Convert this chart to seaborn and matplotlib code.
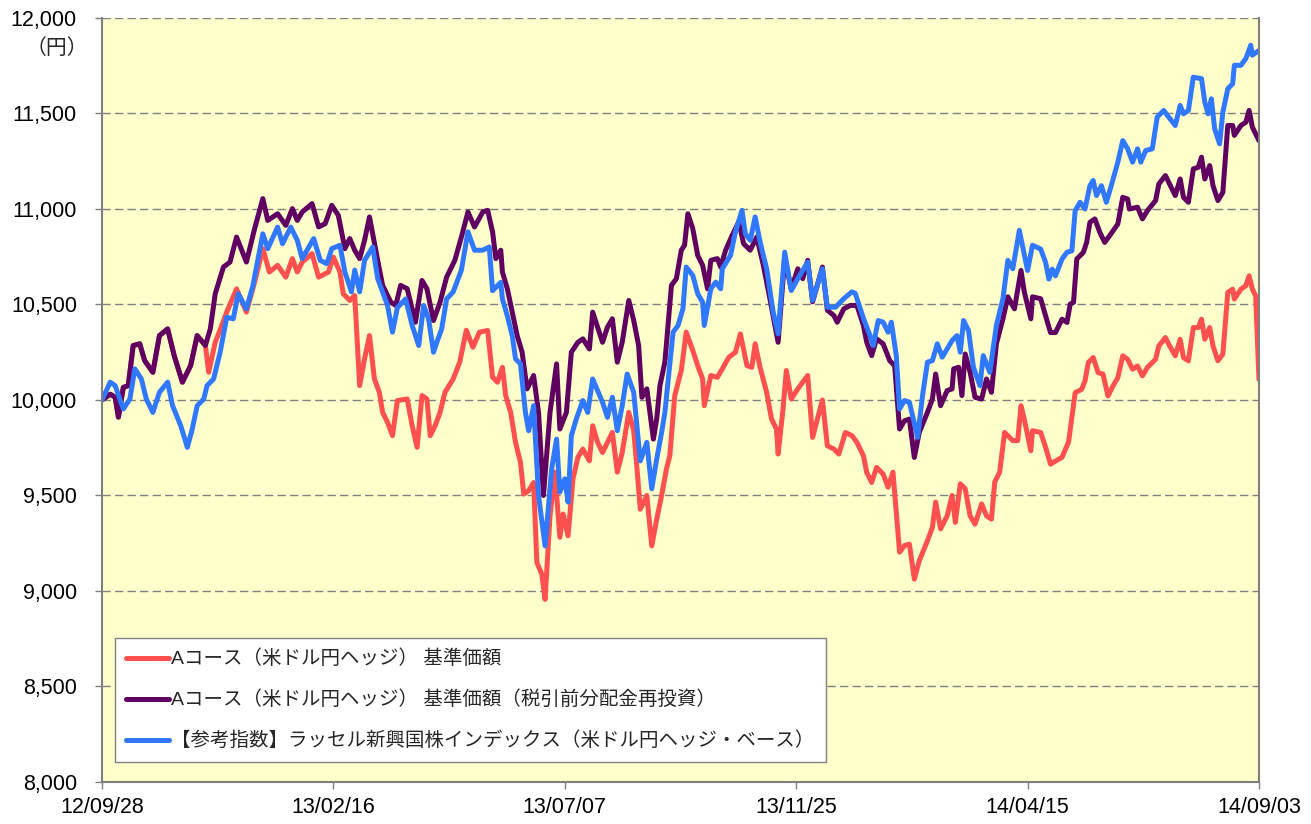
import pandas as pd
import numpy as np
import matplotlib
matplotlib.use("Agg")
import matplotlib.pyplot as plt
import seaborn as sns

# series names (legend order)
name_nav = "Aコース（米ドル円ヘッジ） 基準価額"
name_reinv = "Aコース（米ドル円ヘッジ） 基準価額（税引前分配金再投資）"
name_index = "【参考指数】ラッセル新興国株インデックス（米ドル円ヘッジ・ベース）"

start_date = "2012-09-28"

# day offsets from 2012/09/28 and values (yen)
nav_days = [0, 5, 8, 10, 13, 16, 19, 23, 26, 31, 35, 40, 44, 49, 54, 58, 63, 65, 69, 73,
            76, 82, 88, 93, 98, 102, 107, 112, 116, 119, 122, 128, 132, 138, 141, 145, 147, 151, 154, 157,
            160, 163, 166, 169, 171, 174, 177, 180, 186, 189, 192, 195, 198, 200, 203, 206, 209, 214, 218, 222,
            226, 230, 235, 238, 241, 244, 246, 249, 252, 255, 257, 260, 263, 265, 268, 270, 273, 276, 279, 281,
            284, 287, 290, 293, 297, 299, 302, 305, 308, 311, 314, 317, 321, 324, 326, 328, 332, 335, 338, 341,
            344, 346, 349, 353, 356, 360, 363, 366, 367, 371, 375, 378, 382, 386, 389, 393, 396, 398, 401, 405,
            408, 411, 412, 415, 417, 420, 424, 430, 433, 439, 442, 446, 449, 453, 457, 460, 464, 466, 469, 472,
            476, 479, 482, 486, 489, 492, 495, 498, 503, 506, 508, 511, 515, 518, 520, 523, 526, 529, 532, 536,
            539, 542, 544, 547, 550, 555, 558, 560, 562, 566, 567, 572, 575, 578, 581, 585, 589, 593, 597, 599,
            601, 604, 607, 610, 613, 616, 619, 622, 625, 628, 631, 634, 637, 642, 644, 648, 650, 654, 657, 659,
            662, 665, 668, 670, 672, 675, 677, 680, 683, 686, 689, 690, 694, 697, 699, 701, 703, 705]
nav_vals = [10000, 10030, 10015, 9910, 10066, 10075, 10285, 10294, 10206, 10145, 10337, 10372, 10232, 10093, 10180, 10337, 10285, 10145, 10302, 10390,
            10460, 10582, 10460, 10617, 10792, 10670, 10705, 10643, 10740, 10670, 10722, 10766, 10643, 10670, 10748, 10670, 10556, 10521, 10547, 10075,
            10215, 10337, 10110, 10040, 9935, 9883, 9813, 9997, 10005, 9865, 9752, 10023, 10005, 9813, 9865, 9935, 10040, 10110, 10198, 10365,
            10276, 10355, 10364, 10119, 10093, 10171, 10023, 9935, 9778, 9673, 9507, 9525, 9568, 9149, 9087, 8956, 9393, 9622, 9281, 9403,
            9289, 9587, 9700, 9743, 9681, 9865, 9778, 9725, 9778, 9830, 9622, 9725, 9935, 9839, 9640, 9428, 9500, 9236, 9375, 9500,
            9640, 9708, 10023, 10154, 10355, 10259, 10180, 10110, 9970, 10128, 10119, 10163, 10224, 10250, 10346, 10180, 10171, 10294, 10171, 10040,
            9900, 9848, 9717, 9953, 10154, 10005, 10058, 10128, 9804, 10000, 9760, 9743, 9717, 9830, 9813, 9778, 9708, 9620, 9568, 9647,
            9612, 9543, 9622, 9203, 9238, 9245, 9062, 9158, 9263, 9333, 9465, 9325, 9393, 9500, 9359, 9561, 9535, 9393, 9350, 9456,
            9393, 9376, 9570, 9622, 9830, 9787, 9787, 9970, 9900, 9734, 9839, 9830, 9752, 9664, 9680, 9700, 9780, 10038, 10056, 10100,
            10196, 10222, 10143, 10135, 10021, 10073, 10117, 10231, 10213, 10161, 10178, 10126, 10170, 10213, 10283, 10327, 10292, 10231, 10318, 10222,
            10205, 10379, 10379, 10423, 10318, 10379, 10283, 10205, 10240, 10563, 10580, 10528, 10580, 10598, 10650, 10580, 10545, 10108]

reinv_days = [0, 5, 8, 10, 13, 16, 19, 23, 26, 31, 35, 40, 44, 49, 54, 58, 63, 66, 69, 74,
              78, 82, 88, 93, 98, 101, 107, 112, 116, 119, 122, 128, 132, 136, 140, 144, 148, 151, 154, 157,
              160, 163, 168, 171, 176, 179, 182, 186, 191, 195, 198, 202, 206, 210, 215, 219, 223, 227, 232, 235,
              238, 240, 243, 244, 247, 250, 253, 256, 259, 263, 266, 269, 273, 277, 279, 283, 286, 290, 293, 297,
              299, 302, 305, 308, 311, 314, 317, 321, 324, 327, 329, 332, 336, 338, 340, 343, 347, 350, 353, 355,
              357, 360, 363, 366, 369, 371, 375, 377, 380, 384, 388, 391, 395, 399, 403, 407, 412, 416, 420, 424,
              427, 430, 433, 439, 442, 446, 448, 452, 456, 460, 464, 466, 469, 472, 476, 480, 483, 486, 489, 492,
              495, 498, 503, 506, 508, 511, 515, 518, 519, 522, 524, 526, 529, 532, 536, 539, 542, 545, 549, 552,
              556, 560, 562, 566, 567, 572, 575, 578, 581, 585, 588, 590, 592, 594, 598, 600, 602, 605, 608, 611,
              614, 619, 622, 625, 626, 631, 634, 637, 642, 644, 648, 650, 654, 657, 659, 662, 665, 668, 670, 672,
              675, 677, 680, 683, 686, 689, 690, 694, 697, 699, 701, 705]
reinv_vals = [10000, 10030, 10015, 9910, 10066, 10075, 10285, 10294, 10206, 10145, 10337, 10372, 10232, 10093, 10180, 10337, 10285, 10372, 10556, 10696,
              10722, 10853, 10722, 10897, 11054, 10940, 10975, 10914, 11002, 10940, 10984, 11028, 10906, 10923, 11019, 10967, 10792, 10845, 10784, 10740,
              10836, 10958, 10731, 10600, 10512, 10495, 10600, 10582, 10407, 10626, 10582, 10416, 10512, 10643, 10731, 10853, 10984, 10906, 10984, 10993,
              10880, 10740, 10784, 10670, 10582, 10460, 10337, 10250, 10058, 10128, 9935, 9500, 9935, 10189, 9848, 9935, 10250, 10302, 10320, 10267,
              10460, 10381, 10302, 10381, 10425, 10198, 10302, 10521, 10416, 10285, 10014, 10058, 9795, 9900, 10075, 10198, 10600, 10635, 10784, 10810,
              10975, 10897, 10757, 10705, 10582, 10731, 10740, 10696, 10784, 10862, 10932, 10818, 10784, 10853, 10705, 10530, 10302, 10740, 10582, 10687,
              10635, 10731, 10514, 10696, 10470, 10442, 10407, 10477, 10495, 10495, 10390, 10302, 10232, 10320, 10294, 10206, 10180, 9848, 9891, 9900,
              9699, 9830, 9935, 10005, 10136, 9970, 10049, 10058, 10163, 10171, 10023, 10241, 10145, 10014, 10005, 10110, 10040, 10294, 10425, 10540,
              10477, 10678, 10566, 10425, 10540, 10530, 10440, 10353, 10353, 10423, 10406, 10502, 10511, 10738, 10773, 10825, 10930, 10948, 10878, 10825,
              10860, 10921, 11061, 11052, 11000, 11009, 10948, 10991, 11044, 11131, 11175, 11140, 11070, 11157, 11061, 11035, 11210, 11218, 11271, 11157,
              11227, 11122, 11044, 11087, 11437, 11437, 11385, 11437, 11454, 11516, 11428, 11358]

index_days = [0, 5, 8, 13, 17, 20, 24, 27, 31, 35, 40, 43, 48, 52, 55, 58, 62, 64, 68, 72,
              76, 80, 83, 88, 92, 98, 101, 107, 110, 115, 119, 122, 129, 133, 137, 140, 145, 148, 152, 154,
              157, 160, 165, 168, 174, 177, 180, 185, 189, 193, 196, 199, 202, 204, 207, 210, 214, 219, 223, 227,
              232, 236, 238, 243, 244, 247, 250, 252, 255, 258, 260, 263, 266, 270, 274, 277, 279, 282, 284, 286,
              289, 293, 296, 299, 302, 305, 308, 311, 314, 317, 320, 324, 328, 332, 335, 338, 341, 343, 348, 351,
              354, 356, 360, 363, 366, 367, 371, 374, 377, 378, 383, 386, 390, 392, 395, 398, 401, 405, 409, 412,
              416, 420, 424, 430, 433, 439, 442, 447, 452, 457, 459, 464, 468, 470, 473, 476, 479, 481, 484, 486,
              489, 492, 497, 500, 503, 506, 509, 512, 515, 518, 521, 523, 525, 528, 531, 535, 537, 541, 545, 549,
              552, 555, 559, 564, 567, 572, 575, 577, 579, 581, 585, 588, 591, 593, 596, 599, 602, 604, 606, 609,
              612, 615, 619, 622, 625, 628, 631, 633, 636, 640, 643, 647, 650, 654, 657, 659, 662, 665, 670, 672,
              674, 676, 678, 681, 683, 686, 689, 690, 694, 697, 700, 701, 705]
index_vals = [10000, 10093, 10075, 9953, 10005, 10163, 10110, 10005, 9935, 10040, 10093, 9970, 9865, 9752, 9848, 9970, 10005, 10075, 10110, 10250,
              10433, 10425, 10556, 10477, 10600, 10870, 10792, 10905, 10818, 10905, 10836, 10740, 10845, 10731, 10713, 10792, 10810, 10670, 10566, 10680,
              10566, 10731, 10801, 10635, 10495, 10355, 10484, 10529, 10390, 10285, 10495, 10425, 10250, 10302, 10372, 10529, 10566, 10680, 10880, 10784,
              10784, 10801, 10572, 10616, 10529, 10440, 10337, 10215, 10189, 9935, 9839, 9970, 9500, 9236, 9640, 9795, 9518, 9587, 9465, 9813,
              9900, 9997, 9935, 10110, 10049, 9988, 9909, 10014, 9839, 9970, 10136, 10040, 9681, 9778, 9535, 9690, 9830, 9935, 10355, 10390,
              10477, 10696, 10652, 10556, 10512, 10390, 10582, 10617, 10582, 10687, 10757, 10880, 10993, 10870, 10836, 10958, 10827, 10687, 10460, 10346,
              10774, 10573, 10635, 10722, 10521, 10687, 10486, 10486, 10530, 10566, 10558, 10427, 10337, 10285, 10416, 10407, 10355, 10407, 10232, 9953,
              9997, 9988, 9804, 10023, 10198, 10206, 10294, 10224, 10267, 10311, 10337, 10250, 10416, 10364, 10171, 10075, 10232, 10145, 10390, 10530,
              10731, 10687, 10888, 10678, 10810, 10790, 10720, 10633, 10685, 10650, 10738, 10773, 10781, 10991, 11035, 11000, 11122, 11149, 11070, 11122,
              11035, 11122, 11245, 11358, 11315, 11245, 11315, 11245, 11306, 11315, 11481, 11516, 11481, 11437, 11542, 11498, 11516, 11690, 11682, 11559,
              11498, 11577, 11420, 11341, 11507, 11629, 11656, 11752, 11752, 11787, 11857, 11805, 11830]

tick_days = [0, 141, 282, 423, 564, 705]
y_ticks = [8000, 8500, 9000, 9500, 10000, 10500, 11000, 11500, 12000]

colors = {name_nav: "#FF5050", name_reinv: "#600060", name_index: "#3078FF"}
order = [name_nav, name_reinv, name_index]

start = pd.Timestamp(start_date)
frames = []
for name, days, vals in [(name_nav, nav_days, nav_vals),
                         (name_reinv, reinv_days, reinv_vals),
                         (name_index, index_days, index_vals)]:
    frames.append(pd.DataFrame({"date": start + pd.to_timedelta(days, unit="D"),
                                "value": vals, "series": name}))
df = pd.concat(frames, ignore_index=True)

sns.set_theme(style="white")
plt.rcParams["font.family"] = ["Liberation Sans", "Noto Sans CJK JP"]

fig = plt.figure(figsize=(13.11, 8.24), dpi=100)
ax = fig.add_axes([0.0778, 0.0510, 0.8825, 0.9272])
ax.set_facecolor("#FFFFCC")

sns.lineplot(data=df, x="date", y="value", hue="series", hue_order=order,
             palette=colors, linewidth=3.6, estimator=None, ax=ax)

ax.set_ylim(8000, 12000)
ax.set_xlim(start, start + pd.Timedelta(days=705))
ax.set_yticks(y_ticks)
ax.set_yticklabels([f"{v:,}" for v in y_ticks])
tick_dates = [start + pd.Timedelta(days=d) for d in tick_days]
ax.set_xticks(tick_dates)
ax.set_xticklabels([d.strftime("%y/%m/%d") for d in tick_dates])
ax.set_xlabel("")
ax.set_ylabel("")

ax.yaxis.grid(True, color="#808080", linestyle=(0, (6, 3)), linewidth=1)
ax.xaxis.grid(False)
ax.set_axisbelow(True)
for side in ["left", "bottom", "right"]:
    ax.spines[side].set_color("#808080")
    ax.spines[side].set_linewidth(1.5)
ax.spines["top"].set_visible(False)
ax.tick_params(axis="both", direction="out", length=5, width=1, color="#808080",
               labelsize=15.5, labelcolor="black", left=True, bottom=True)
ax.tick_params(axis="x", pad=6)
ax.tick_params(axis="y", pad=13)

fig.text(88 / 1311, 1 - 48 / 824, "（円）", ha="right", va="center", fontsize=15)

handles, labels = ax.get_legend_handles_labels()
leg = ax.legend(handles, labels, loc="lower left", bbox_to_anchor=(0.011, 0.026),
                frameon=True, fancybox=False, edgecolor="#808080", facecolor="white",
                framealpha=1, fontsize=14, handlelength=2.2, handletextpad=0.1,
                labelspacing=1.15, borderpad=0.6, borderaxespad=0)
leg.get_frame().set_linewidth(1)
for line in leg.get_lines():
    line.set_linewidth(3.6)

fig.savefig("out.png", dpi=100)
plt.close(fig)
